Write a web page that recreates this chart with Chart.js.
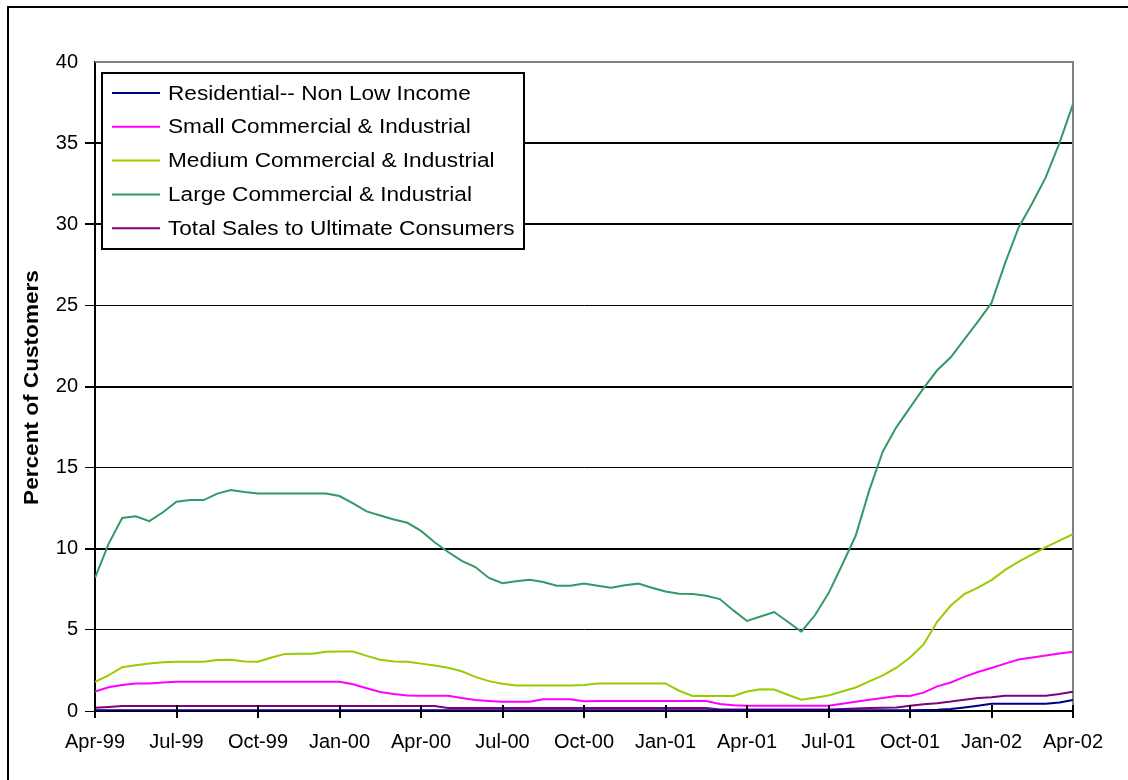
<!DOCTYPE html>
<html>
<head>
<meta charset="utf-8">
<title>Percent of Customers</title>
<script src="https://cdn.jsdelivr.net/npm/chart.js@4/dist/chart.umd.min.js"></script>
<style>
  html, body { margin: 0; padding: 0; background: #fff; }
  canvas { display: block; }
</style>
</head>
<body>
<canvas id="switchChart" width="1128" height="780"></canvas>
<script>
// Half-month steps from Apr-99 (0) to Apr-02 (36)
const months = [
  0, 0.5, 1, 1.5, 2, 2.5, 3, 3.5, 4, 4.5, 5, 5.5,
  6, 6.5, 7, 7.5, 8, 8.5, 9, 9.5, 10, 10.5, 11, 11.5,
  12, 12.5, 13, 13.5, 14, 14.5, 15, 15.5, 16, 16.5, 17, 17.5,
  18, 18.5, 19, 19.5, 20, 20.5, 21, 21.5, 22, 22.5, 23, 23.5,
  24, 24.5, 25, 25.5, 26, 26.5, 27, 27.5, 28, 28.5, 29, 29.5,
  30, 30.5, 31, 31.5, 32, 32.5, 33, 33.5, 34, 34.5, 35, 35.5,
  36
];

const quarterLabels = ['Apr-99', 'Jul-99', 'Oct-99', 'Jan-00', 'Apr-00', 'Jul-00', 'Oct-00',
  'Jan-01', 'Apr-01', 'Jul-01', 'Oct-01', 'Jan-02', 'Apr-02'];

const residential = [
  0.05, 0.05, 0.05, 0.05, 0.05, 0.05,
  0.05, 0.05, 0.05, 0.05, 0.05, 0.05,
  0.05, 0.05, 0.05, 0.05, 0.05, 0.05,
  0.05, 0.05, 0.05, 0.05, 0.05, 0.05,
  0.05, 0.05, 0.05, 0.05, 0.05, 0.05,
  0.05, 0.05, 0.05, 0.05, 0.05, 0.05,
  0.05, 0.05, 0.05, 0.05, 0.05, 0.05,
  0.05, 0.05, 0.05, 0.05, 0.05, 0.05,
  0.05, 0.05, 0.05, 0.05, 0.05, 0.05,
  0.05, 0.05, 0.05, 0.05, 0.05, 0.05,
  0.05, 0.06, 0.08, 0.12, 0.22, 0.33,
  0.45, 0.45, 0.45, 0.45, 0.45, 0.52,
  0.68
];

const smallCI = [
  1.2, 1.46, 1.6, 1.7, 1.7, 1.76,
  1.8, 1.8, 1.8, 1.8, 1.8, 1.8,
  1.8, 1.8, 1.8, 1.8, 1.8, 1.8,
  1.8, 1.65, 1.4, 1.17, 1.05, 0.96,
  0.94, 0.94, 0.94, 0.8, 0.68, 0.62,
  0.57, 0.57, 0.57, 0.72, 0.72, 0.72,
  0.6, 0.62, 0.62, 0.62, 0.62, 0.62,
  0.62, 0.62, 0.62, 0.62, 0.43, 0.36,
  0.33, 0.33, 0.33, 0.33, 0.33, 0.33,
  0.33, 0.45, 0.57, 0.7, 0.8, 0.92,
  0.92, 1.13, 1.52, 1.76, 2.1, 2.4,
  2.65, 2.92, 3.17, 3.3, 3.42, 3.55,
  3.66
];

const mediumCI = [
  1.8, 2.2, 2.7, 2.82, 2.93, 3.0,
  3.04, 3.04, 3.04, 3.15, 3.16, 3.05,
  3.04, 3.3, 3.52, 3.53, 3.53, 3.65,
  3.66, 3.66, 3.4, 3.16, 3.05, 3.04,
  2.92, 2.8, 2.67, 2.45, 2.1, 1.84,
  1.68, 1.57, 1.57, 1.57, 1.57, 1.57,
  1.6, 1.7, 1.7, 1.7, 1.7, 1.7,
  1.7, 1.25, 0.93, 0.92, 0.92, 0.92,
  1.2, 1.34, 1.32, 1.0, 0.7, 0.82,
  0.96, 1.2, 1.45, 1.83, 2.2, 2.67,
  3.3, 4.1, 5.5, 6.5, 7.2, 7.6,
  8.07, 8.7, 9.2, 9.65, 10.1, 10.5,
  10.9
];

const largeCI = [
  8.2, 10.3, 11.9, 12.0, 11.7, 12.25,
  12.9, 13.0, 13.0, 13.4, 13.62, 13.5,
  13.4, 13.4, 13.4, 13.4, 13.4, 13.4,
  13.25, 12.8, 12.3, 12.05, 11.8, 11.6,
  11.1, 10.4, 9.8, 9.25, 8.87, 8.2,
  7.88, 8.0, 8.09, 7.95, 7.72, 7.72,
  7.85, 7.72, 7.6, 7.75, 7.85, 7.6,
  7.37, 7.22, 7.21, 7.1, 6.9, 6.2,
  5.55, 5.82, 6.1, 5.5, 4.89, 5.9,
  7.25, 9.0, 10.8, 13.6, 16.0, 17.5,
  18.7, 19.9, 21.0, 21.8, 22.9, 24.0,
  25.15, 27.6, 29.8, 31.3, 32.9, 35.0,
  37.4
];

const totalSales = [
  0.2, 0.25, 0.31, 0.31, 0.31, 0.31,
  0.31, 0.31, 0.31, 0.31, 0.31, 0.31,
  0.31, 0.31, 0.31, 0.31, 0.31, 0.31,
  0.31, 0.31, 0.31, 0.31, 0.31, 0.31,
  0.31, 0.31, 0.18, 0.18, 0.18, 0.18,
  0.18, 0.18, 0.18, 0.18, 0.18, 0.18,
  0.18, 0.18, 0.18, 0.18, 0.18, 0.18,
  0.18, 0.18, 0.18, 0.18, 0.1, 0.1,
  0.1, 0.1, 0.1, 0.1, 0.1, 0.1,
  0.1, 0.12, 0.15, 0.18, 0.2, 0.22,
  0.33, 0.42, 0.48, 0.58, 0.7, 0.8,
  0.85, 0.94, 0.94, 0.94, 0.94, 1.05,
  1.19
];

const FONT = '"Liberation Sans", Arial, sans-serif';
const yTitle = 'Percent of Customers';

function toPoints(values) {
  return values.map((v, i) => ({ x: months[i], y: v }));
}

function series(label, values, color) {
  return {
    label: label,
    data: toPoints(values),
    borderColor: color,
    backgroundColor: color,
    borderWidth: 2,
    pointRadius: 0,
    tension: 0,
    fill: false
  };
}

// Gray frame on the top and right of the plot, small tick stubs above the x axis
const plotFrame = {
  id: 'plotFrame',
  beforeDatasetsDraw(chart) {
    const { ctx, chartArea: a } = chart;
    ctx.save();
    ctx.strokeStyle = '#808080';
    ctx.lineWidth = 2;
    ctx.beginPath();
    ctx.moveTo(a.left, a.top);
    ctx.lineTo(a.right, a.top);
    ctx.lineTo(a.right, a.bottom);
    ctx.stroke();
    ctx.restore();
  },
  afterDraw(chart) {
    const { ctx, chartArea: a } = chart;
    const xScale = chart.scales.x;
    ctx.save();
    ctx.strokeStyle = '#000';
    ctx.lineWidth = 2;
    ctx.beginPath();
    xScale.ticks.forEach(t => {
      const px = Math.round(xScale.getPixelForValue(t.value));
      ctx.moveTo(px, a.bottom - 6);
      ctx.lineTo(px, a.bottom);
    });
    ctx.stroke();

    // outer chart border (left and top edges)
    ctx.beginPath();
    ctx.moveTo(8, chart.height);
    ctx.lineTo(8, 7);
    ctx.lineTo(chart.width, 7);
    ctx.stroke();

    // rotated y axis title, slightly widened lettering
    ctx.translate(32, (a.top + a.bottom) / 2 + 1);
    ctx.rotate(-Math.PI / 2);
    ctx.scale(1.13, 1);
    ctx.font = 'bold 20px ' + FONT;
    ctx.fillStyle = '#000';
    ctx.textAlign = 'center';
    ctx.textBaseline = 'middle';
    ctx.fillText(yTitle, 0, 0);
    ctx.restore();
  }
};

// Boxed legend inside the plot area
const boxLegend = {
  id: 'boxLegend',
  afterDatasetsDraw(chart) {
    const ctx = chart.ctx;
    const left = 102, top = 73, width = 422, height = 176;
    const rowH = 33.8;
    ctx.save();
    ctx.fillStyle = '#fff';
    ctx.fillRect(left, top, width, height);
    ctx.strokeStyle = '#000';
    ctx.lineWidth = 2;
    ctx.strokeRect(left, top, width, height);
    chart.data.datasets.forEach((ds, i) => {
      const y = top + 20 + i * rowH;
      ctx.strokeStyle = ds.borderColor;
      ctx.lineWidth = 2;
      ctx.beginPath();
      ctx.moveTo(112, y);
      ctx.lineTo(160, y);
      ctx.stroke();
      ctx.save();
      ctx.translate(168, y + 1);
      ctx.scale(1.13, 1);
      ctx.font = '20px ' + FONT;
      ctx.textBaseline = 'middle';
      ctx.textAlign = 'left';
      ctx.fillStyle = '#000';
      ctx.fillText(ds.label, 0, 0);
      ctx.restore();
    });
    ctx.restore();
  }
};

new Chart(document.getElementById('switchChart'), {
  type: 'line',
  data: {
    datasets: [
      series('Residential-- Non Low Income', residential, '#000080'),
      series('Small Commercial & Industrial', smallCI, '#FF00FF'),
      series('Medium Commercial & Industrial', mediumCI, '#99CC00'),
      series('Large Commercial & Industrial', largeCI, '#339966'),
      series('Total Sales to Ultimate Consumers', totalSales, '#800080')
    ]
  },
  options: {
    responsive: false,
    animation: false,
    devicePixelRatio: 1,
    layout: { padding: { left: 0, top: 62, right: 55, bottom: 0 } },
    plugins: {
      legend: { display: false },
      tooltip: { enabled: false }
    },
    scales: {
      x: {
        type: 'linear',
        min: 0,
        max: 36,
        afterFit: s => { s.height = 69; },
        border: { display: true, color: '#000', width: 2 },
        grid: { drawOnChartArea: false, drawTicks: true, tickLength: 7, color: '#000', lineWidth: 2 },
        ticks: {
          stepSize: 3,
          autoSkip: false,
          maxRotation: 0,
          padding: 12,
          color: '#000',
          font: { family: FONT, size: 20 },
          callback: v => quarterLabels[v / 3]
        }
      },
      y: {
        min: 0,
        max: 40,
        afterFit: s => { s.width = 95; },
        border: { display: true, color: '#000', width: 2 },
        grid: {
          color: ctx => (ctx.tick && ctx.tick.value === 40) ? 'rgba(0,0,0,0)' : '#000',
          lineWidth: ctx => (ctx.tick && [10, 20, 30, 35].includes(ctx.tick.value)) ? 2 : 1,
          tickLength: 10
        },
        ticks: {
          stepSize: 5,
          padding: 7,
          color: '#000',
          font: { family: FONT, size: 20 }
        }
      }
    }
  },
  plugins: [plotFrame, boxLegend]
});
</script>
</body>
</html>
